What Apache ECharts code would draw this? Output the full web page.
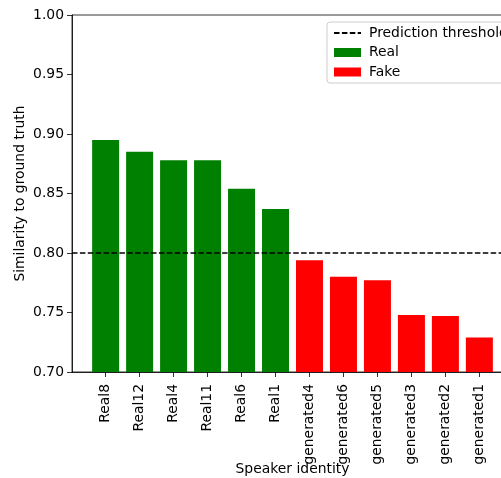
<!DOCTYPE html>
<html>
<head>
<meta charset="utf-8">
<script src="https://cdn.jsdelivr.net/npm/echarts@6/dist/echarts.min.js"></script>
<style>html,body{margin:0;padding:0;background:#fff;}#c{width:501px;height:478px;}</style>
</head>
<body>
<div id="c"></div>
<script>
const realNames = ['Real8','Real12','Real4','Real11','Real6','Real1'];
const realValues = [0.895, 0.885, 0.878, 0.878, 0.854, 0.837];
const fakeNames = ['generated4','generated6','generated5','generated3','generated2','generated1'];
const fakeValues = [0.794, 0.780, 0.777, 0.748, 0.747, 0.729];
const threshold = 0.80;
const yTicks = [0.70, 0.75, 0.80, 0.85, 0.90, 0.95, 1.00];

const names = realNames.concat(fakeNames);
const positions = names.map((_, i) => i);
const xMin = -0.99, xMax = names.length - 1 + 0.99;

const realData = realValues.map((v, i) => [i, v]);
const fakeData = fakeValues.map((v, i) => [i + realValues.length, v]);

const font = 'DejaVu Sans';
const chart = echarts.init(document.getElementById('c'), null, {renderer: 'canvas'});
chart.setOption({
  animation: false,
  textStyle: {fontFamily: font, color: '#000'},
  grid: {left: 72, top: 15, bottom: 106, right: -12, show: true, borderColor: '#000', borderWidth: 0.8,
    containLabel: false, outerBoundsMode: 'none'},
  legend: {
    orient: 'vertical', left: 327, top: 22,
    itemWidth: 27, itemHeight: 9, itemGap: 5.5,
    padding: [4, 10, 4, 6],
    backgroundColor: 'rgba(255,255,255,0.8)', borderColor: '#cccccc', borderWidth: 1, borderRadius: 3,
    textStyle: {fontFamily: font, fontSize: 13.9, color: '#000', padding: [0, 0, 0, 3]},
    data: [
      {name: 'Prediction threshold', itemStyle: {opacity: 0}},
      {name: 'Real', icon: 'rect'},
      {name: 'Fake', icon: 'rect'}
    ]
  },
  xAxis: {
    type: 'value', min: xMin, max: xMax,
    name: 'Speaker identity', nameLocation: 'middle', nameGap: 90, nameMoveOverlap: false,
    nameTextStyle: {fontFamily: font, fontSize: 13.9, color: '#000'},
    axisLine: {show: true, onZero: false, lineStyle: {color: '#000', width: 0.8}},
    axisTick: {show: true, customValues: positions, length: 5, lineStyle: {color: '#000', width: 0.8}},
    axisLabel: {customValues: positions, rotate: 90, margin: 12, fontFamily: font, fontSize: 13.9, color: '#000',
      formatter: v => names[Math.round(v)] || ''},
    splitLine: {show: false}
  },
  yAxis: {
    type: 'value', min: 0.70, max: 1.00, interval: 0.05,
    name: 'Similarity to ground truth', nameLocation: 'middle', nameGap: 45, nameMoveOverlap: false,
    nameTextStyle: {fontFamily: font, fontSize: 13.9, color: '#000'},
    axisLine: {show: true, onZero: false, lineStyle: {color: '#000', width: 0.8}},
    axisTick: {show: true, length: 5, lineStyle: {color: '#000', width: 0.8}},
    axisLabel: {margin: 8, fontFamily: font, fontSize: 13.9, color: '#000',
      formatter: v => v.toFixed(2)},
    splitLine: {show: false}
  },
  series: [
    {name: 'Real', type: 'bar', data: realData, barWidth: 27, barGap: '-100%', itemStyle: {color: '#008000'}},
    {name: 'Fake', type: 'bar', data: fakeData, barWidth: 27, barGap: '-100%', itemStyle: {color: '#ff0000'}},
    {name: 'Prediction threshold', type: 'line', data: [[xMin, threshold], [xMax, threshold]],
      symbol: 'none', showSymbol: false, z: 5,
      lineStyle: {color: '#000', width: 1.5, type: [5.5, 2.4]}}
  ]
});
</script>
</body>
</html>
